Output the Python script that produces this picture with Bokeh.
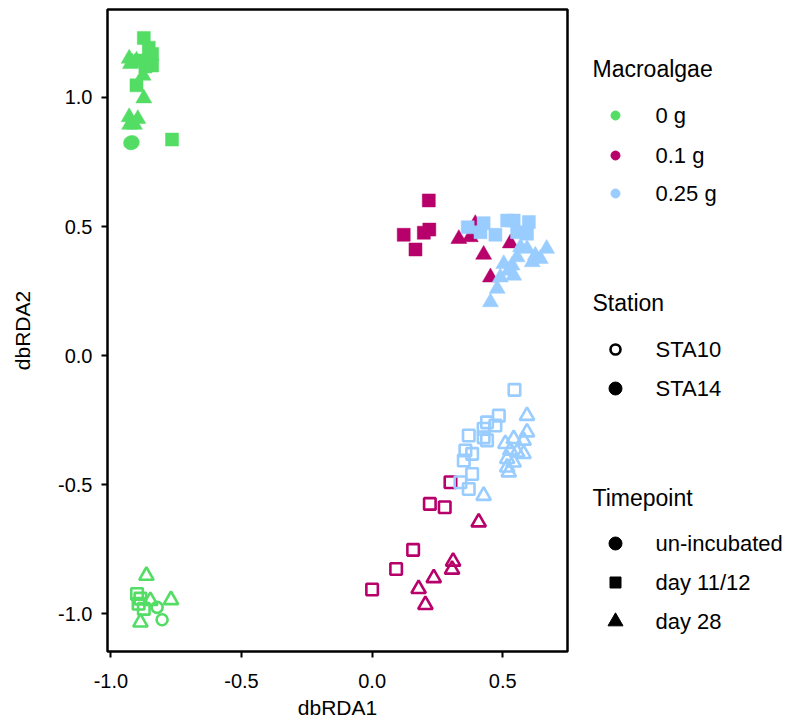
from bokeh.plotting import figure
from bokeh.models import Range1d, ColumnDataSource, FixedTicker, PrintfTickFormatter
from bokeh.layouts import row
from bokeh.embed import file_html
from bokeh.resources import INLINE
from bokeh.core.properties import value

# ---------------- data ----------------
macro_levels = ["0 g", "0.1 g", "0.25 g"]
macro_colors = ["#53DD65", "#B8006B", "#99CCFF"]
stations = ["STA10", "STA14"]
timepoints = ["un-incubated", "day 11/12", "day 28"]
x_ticks = [-1.0, -0.5, 0.0, 0.5]
y_ticks = [-1.0, -0.5, 0.0, 0.5, 1.0]

# 0 g, STA14
g0_s14_x = [-0.874, -0.855, -0.842, -0.842, -0.902, -0.766, -0.887, -0.868,
            -0.930, -0.925, -0.919, -0.902, -0.877, -0.874, -0.930, -0.897, -0.928, -0.910,
            -0.925, -0.918]
g0_s14_y = [1.231, 1.193, 1.169, 1.124, 1.047, 0.837, 1.143, 1.120,
            1.151, 1.130, 1.137, 1.143, 1.085, 0.997, 0.924, 0.917, 0.895, 0.895,
            0.824, 0.826]
g0_s14_t = ["day 11/12"] * 8 + ["day 28"] * 10 + ["un-incubated"] * 2

# 0.1 g, STA14
g1_s14_x = [0.217, 0.121, 0.166, 0.198, 0.219,
            0.332, 0.376, 0.395, 0.427, 0.529, 0.453]
g1_s14_y = [0.601, 0.468, 0.411, 0.476, 0.488,
            0.452, 0.459, 0.510, 0.391, 0.435, 0.303]
g1_s14_t = ["day 11/12"] * 5 + ["day 28"] * 6

# 0.25 g, STA14
g2_s14_x = [0.366, 0.415, 0.427, 0.472, 0.517, 0.542, 0.555, 0.593, 0.600,
            0.453, 0.479, 0.491, 0.504, 0.523, 0.536, 0.542, 0.555, 0.568, 0.593,
            0.613, 0.625, 0.644, 0.668]
g2_s14_y = [0.497, 0.478, 0.513, 0.468, 0.523, 0.523, 0.478, 0.472, 0.517,
            0.207, 0.259, 0.303, 0.355, 0.329, 0.349, 0.310, 0.381, 0.420, 0.414,
            0.362, 0.388, 0.375, 0.414]
g2_s14_t = ["day 11/12"] * 9 + ["day 28"] * 14

# 0 g, STA10
g0_s10_x = [-0.864, -0.770, -0.887, -0.849, -0.900, -0.894, -0.874, -0.887,
            -0.823, -0.804]
g0_s10_y = [-0.853, -0.947, -1.034, -0.950, -0.924, -0.962, -0.982, -0.942,
            -0.976, -1.024]
g0_s10_t = ["day 28"] * 4 + ["day 11/12"] * 4 + ["un-incubated"] * 2

# 0.1 g, STA10
g1_s10_x = [0.300, 0.221, 0.278, 0.157, 0.092, 0.000,
            0.408, 0.310, 0.306, 0.236, 0.178, 0.204]
g1_s10_y = [-0.491, -0.575, -0.588, -0.753, -0.827, -0.907,
            -0.646, -0.798, -0.829, -0.862, -0.904, -0.966]
g1_s10_t = ["day 11/12"] * 6 + ["day 28"] * 6

# 0.25 g, STA10
g2_s10_x = [0.545, 0.485, 0.440, 0.472, 0.427, 0.370, 0.427, 0.440, 0.357, 0.383,
            0.351, 0.383, 0.338, 0.370,
            0.593, 0.593, 0.580, 0.542, 0.510, 0.529, 0.555, 0.580, 0.517, 0.542,
            0.517, 0.523, 0.427]
g2_s10_y = [-0.133, -0.233, -0.259, -0.271, -0.284, -0.310, -0.317, -0.329, -0.368, -0.381,
            -0.407, -0.459, -0.491, -0.517,
            -0.233, -0.297, -0.329, -0.323, -0.342, -0.368, -0.375, -0.381, -0.400, -0.414,
            -0.433, -0.452, -0.543]
g2_s10_t = ["day 11/12"] * 14 + ["day 28"] * 13

groups = [
    ("0 g", "STA14", g0_s14_x, g0_s14_y, g0_s14_t),
    ("0.1 g", "STA14", g1_s14_x, g1_s14_y, g1_s14_t),
    ("0.25 g", "STA14", g2_s14_x, g2_s14_y, g2_s14_t),
    ("0 g", "STA10", g0_s10_x, g0_s10_y, g0_s10_t),
    ("0.1 g", "STA10", g1_s10_x, g1_s10_y, g1_s10_t),
    ("0.25 g", "STA10", g2_s10_x, g2_s10_y, g2_s10_t),
]

FONT = "Liberation Sans"
marker_of = {"un-incubated": "circle", "day 11/12": "square", "day 28": "triangle"}
filled_size = {"un-incubated": 14, "day 11/12": 13, "day 28": 16}
open_size = {"un-incubated": 11, "day 11/12": 11.5, "day 28": 14.5}

FRAME_W, FRAME_H = 460, 642
LEFT, TOP, RIGHT = 107, 9, 8

# ---------------- main plot ----------------
p = figure(frame_width=FRAME_W, frame_height=FRAME_H, output_backend="svg", toolbar_location=None,
           x_range=Range1d(-1.013, 0.748), y_range=Range1d(-1.147, 1.341),
           min_border_left=LEFT, min_border_top=TOP, min_border_right=RIGHT, min_border_bottom=0)
p.background_fill_color = "white"
p.border_fill_color = "white"
p.grid.visible = False
p.outline_line_color = "black"
p.outline_line_width = 2.5
p.outline_line_alpha = 1.0

for ax in (p.xaxis, p.yaxis):
    ax.axis_line_color = None
    ax.major_tick_out = 6
    ax.major_tick_in = 0
    ax.major_tick_line_width = 2
    ax.major_tick_line_color = "black"
    ax.minor_tick_line_color = None
    ax.major_label_text_font = FONT
    ax.major_label_text_font_size = "20px"
    ax.major_label_text_color = "black"
    ax.axis_label_text_font = FONT
    ax.axis_label_text_font_size = "21px"
    ax.axis_label_text_font_style = "normal"
    ax.axis_label_text_color = "black"
    ax.formatter = PrintfTickFormatter(format="%.1f")
p.xaxis.ticker = FixedTicker(ticks=x_ticks)
p.yaxis.ticker = FixedTicker(ticks=y_ticks)
p.xaxis.axis_label = "dbRDA1"
p.yaxis.axis_label = "dbRDA2"
p.xaxis.major_label_standoff = 16
p.xaxis.axis_label_standoff = 5
p.yaxis.major_label_standoff = 9
p.yaxis.axis_label_standoff = 21

for macro, sta, xs, ys, ts in groups:
    color = macro_colors[macro_levels.index(macro)]
    for tp in timepoints:
        idx = [i for i, t in enumerate(ts) if t == tp]
        if not idx:
            continue
        src = ColumnDataSource(dict(x=[xs[i] for i in idx], y=[ys[i] for i in idx]))
        if sta == "STA14":
            p.scatter("x", "y", source=src, marker=marker_of[tp], size=filled_size[tp],
                      fill_color=color, line_color=color, line_width=0.5)
        else:
            p.scatter("x", "y", source=src, marker=marker_of[tp], size=open_size[tp],
                      fill_alpha=0, line_color=color, line_width=2.6)

# ---------------- legend panel ----------------
LW = 786 - (LEFT + FRAME_W + RIGHT)
lg = figure(frame_width=LW, frame_height=FRAME_H, output_backend="svg", toolbar_location=None,
            x_range=Range1d(0, LW), y_range=Range1d(FRAME_H, 0),
            min_border_left=0, min_border_right=0, min_border_top=TOP, min_border_bottom=0,
            x_axis_location=None, y_axis_location=None)
lg.grid.visible = False
lg.outline_line_color = None
lg.background_fill_color = "white"
lg.border_fill_color = "white"

title_x = 17
mark_x = 40
lab_x = 80
titles = ["Macroalgae", "Station", "Timepoint"]
title_y = [59, 293, 488]
macro_y = [106, 146, 184]
station_y = [340, 379]
time_y = [534, 573, 612]

lg.text(x=[title_x] * 3, y=title_y, text=titles, text_font=value(FONT),
        text_font_size="23px", text_baseline="middle", text_align="left", text_color="black")
lg.text(x=[lab_x] * 3, y=macro_y, text=macro_levels, text_font=value(FONT),
        text_font_size="22px", text_baseline="middle", text_align="left", text_color="black")
lg.text(x=[lab_x] * 2, y=station_y, text=stations, text_font=value(FONT),
        text_font_size="22px", text_baseline="middle", text_align="left", text_color="black")
lg.text(x=[lab_x] * 3, y=time_y, text=timepoints, text_font=value(FONT),
        text_font_size="22px", text_baseline="middle", text_align="left", text_color="black")

lg.scatter(x=[mark_x] * 3, y=macro_y, marker="circle", size=9,
           fill_color=macro_colors, line_color=macro_colors)
lg.scatter(x=[mark_x], y=[station_y[0]], marker="circle", size=10,
           fill_alpha=0, line_color="black", line_width=2.6)
lg.scatter(x=[mark_x], y=[station_y[1]], marker="circle", size=13,
           fill_color="black", line_color="black")
lg.scatter(x=[mark_x] * 3, y=time_y, marker=[marker_of[t] for t in timepoints],
           size=[13, 11, 15], fill_color="black", line_color="black")

layout = row(p, lg)
open("out.html", "w").write(file_html(layout, INLINE))
